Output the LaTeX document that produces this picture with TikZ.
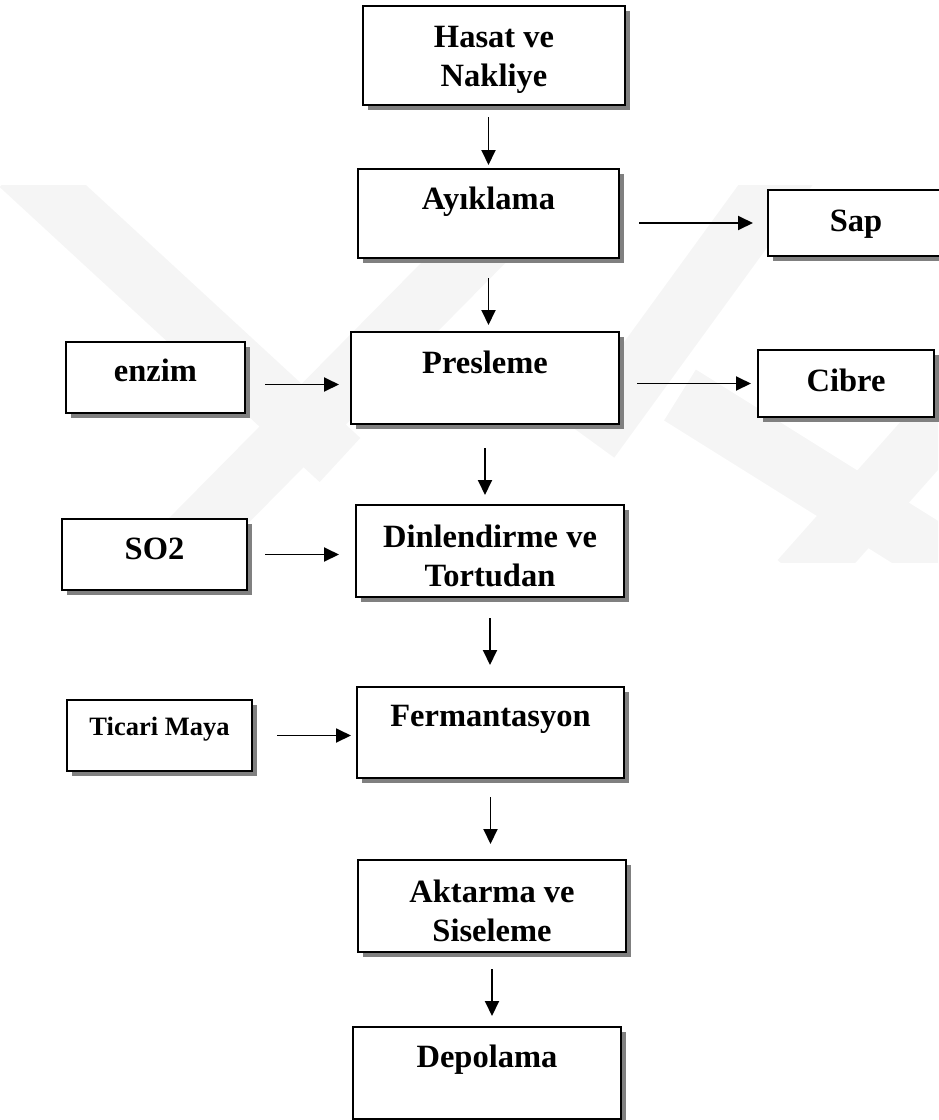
\documentclass[tikz,border=0pt]{standalone}
\usepackage{fontspec}
\setmainfont{Liberation Serif}
\usetikzlibrary{arrows.meta,shadows}

\tikzset{
  box/.style={draw, line width=2pt, fill=white, inner xsep=0pt, inner ysep=0pt,
    align=center, font=\bfseries\fontsize{32.5}{39}\selectfont,
    drop shadow={shadow xshift=5pt, shadow yshift=-5pt, fill=black!50, opacity=1}},
  arr/.style={line width=1.9pt, -{Triangle[length=15pt,width=14pt]}},
  wband/.style={line width=60pt, draw=black!4}
}

\begin{document}
\begin{tikzpicture}[x=1pt, y=-1pt]
\useasboundingbox (0,0) rectangle (938,1120);

% watermark
\begin{scope}
  \clip (0,185) rectangle (938,562);
  \draw[wband] (20,165) -- (340,460);
  \draw[wband] (150,580) -- (560,165);
  \draw[wband] (590,440) -- (790,165);
  \draw[wband] (680,395) -- (960,570);
  \draw[wband] (800,580) -- (960,400);
\end{scope}

% main column
\node[box, anchor=north, minimum width=262pt, text height=80pt, text depth=19pt] (hasat) at (494,5) {Hasat ve\\Nakliye};
\node[box, anchor=north, minimum width=261pt, text height=40pt, text depth=49pt] (ayik) at (488.5,168) {Ayıklama};
\node[box, anchor=north, minimum width=268pt, text height=41pt, text depth=51pt] (pres) at (485,331) {Presleme};
\node[box, anchor=north, minimum width=268pt, text height=81pt, text depth=11pt] (dinl) at (490,504) {Dinlendirme ve\\Tortudan};
\node[box, anchor=north, minimum width=267pt, text height=39pt, text depth=52pt] (ferm) at (490.5,686) {Fermantasyon};
\node[box, anchor=north, minimum width=268pt, text height=81pt, text depth=11pt] (akt) at (492,859) {Aktarma ve\\Siseleme};
\node[box, anchor=north, minimum width=268pt, text height=40pt, text depth=52pt] (dep) at (487,1026) {Depolama};

% side boxes
\node[box, anchor=north, minimum width=176pt, text height=41pt, text depth=25pt] (sap) at (856,189) {Sap};
\node[box, anchor=north, minimum width=179pt, text height=39pt, text depth=32pt] (enzim) at (155.5,341) {enzim};
\node[box, anchor=north, minimum width=176pt, text height=41pt, text depth=26pt] (cibre) at (846,349) {Cibre};
\node[box, anchor=north, minimum width=185pt, text height=40pt, text depth=31pt] (so2) at (154.5,518) {SO2};
\node[box, anchor=north, minimum width=185pt, text height=35pt, text depth=36pt,
      font=\bfseries\fontsize{26.5}{30}\selectfont] (ticari) at (159.5,699) {Ticari Maya};

% arrows down the column
\draw[arr, shorten <=11pt, shorten >=3pt] (ayik.north |- hasat.south) -- (ayik.north);
\draw[arr, shorten <=19pt, shorten >=6pt] (ayik.south) -- (ayik.south |- pres.north);
\draw[arr, shorten <=23pt, shorten >=9pt] (pres.south) -- (pres.south |- dinl.north);
\draw[arr, shorten <=20pt, shorten >=21pt] (dinl.south) -- (dinl.south |- ferm.north);
\draw[arr, shorten <=18pt, shorten >=15pt] (ferm.south) -- (ferm.south |- akt.north);
\draw[arr, shorten <=16pt, shorten >=10pt] (akt.south) -- (akt.south |- dep.north);

% side arrows
\draw[arr, shorten <=19pt, shorten >=14pt] (ayik.east |- sap.west) -- (sap.west);
\draw[arr, shorten <=19pt, shorten >=11pt] ([yshift=-7pt]enzim.east) -- ([yshift=-7pt]enzim.east -| pres.west);
\draw[arr, shorten <=17pt, shorten >=6pt] (pres.east |- cibre.west) -- (cibre.west);
\draw[arr, shorten <=17pt, shorten >=16pt] (so2.east) -- (so2.east -| dinl.west);
\draw[arr, shorten <=24pt, shorten >=5pt] (ticari.east) -- (ticari.east -| ferm.west);
\end{tikzpicture}
\end{document}
